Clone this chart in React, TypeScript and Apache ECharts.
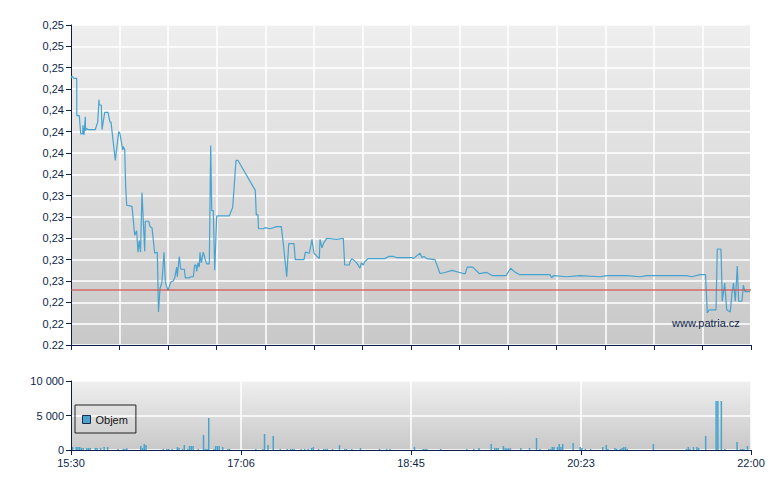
import * as echarts from "echarts";
import { useEffect, useRef } from "react";

// intraday trades, 15:30 - 22:00
const priceTimes = [
  "15:30:00", "15:30:34", "15:31:43", "15:33:16", "15:33:20", "15:34:46", "15:35:34", "15:36:43", "15:36:50", "15:37:27",
  "15:38:12", "15:38:20", "15:39:00", "15:39:45", "15:43:56", "15:45:19", "15:46:04", "15:46:14", "15:47:23", "15:47:47",
  "15:49:20", "15:51:13", "15:52:22", "15:52:56", "15:55:25", "15:57:21", "15:58:06", "15:59:39", "16:00:00", "16:00:48",
  "16:01:22", "16:01:57", "16:04:59", "16:06:32", "16:07:41", "16:08:26", "16:09:10", "16:09:52", "16:10:43", "16:12:16",
  "16:12:37", "16:14:34", "16:15:19", "16:16:27", "16:18:00", "16:19:30", "16:20:11", "16:21:03", "16:22:11", "16:23:20",
  "16:24:05", "16:25:38", "16:27:11", "16:28:40", "16:29:29", "16:30:37", "16:30:58", "16:32:07", "16:32:55", "16:34:59",
  "16:35:33", "16:37:51", "16:38:39", "16:40:08", "16:40:56", "16:41:41", "16:42:05", "16:42:50", "16:43:35", "16:43:59",
  "16:44:44", "16:45:53", "16:47:02", "16:47:50", "16:49:19", "16:50:07", "16:50:42", "16:51:37", "16:52:25", "16:53:34",
  "17:00:47", "17:02:44", "17:04:38", "17:05:47", "17:15:42", "17:16:16", "17:17:15", "17:17:32", "17:20:17", "17:21:16",
  "17:24:08", "17:27:58", "17:30:37", "17:31:46", "17:33:43", "17:34:52", "17:37:54", "17:38:38", "17:43:38", "17:44:23",
  "17:46:40", "17:48:13", "17:49:22", "17:52:25", "17:52:49", "17:53:58", "17:54:42", "17:56:39", "18:02:23", "18:06:10",
  "18:06:58", "18:09:37", "18:10:01", "18:11:10", "18:13:52", "18:15:45", "18:16:29", "18:17:38", "18:18:26", "18:20:20",
  "18:29:55", "18:32:13", "18:34:51", "18:36:48", "18:45:34", "18:46:19", "18:50:10", "18:51:19", "18:52:28", "18:54:00",
  "18:58:46", "19:01:38", "19:04:30", "19:08:31", "19:14:59", "19:16:08", "19:17:17", "19:20:23", "19:24:10", "19:28:25",
  "19:31:52", "19:36:02", "19:39:29", "19:42:11", "19:44:04", "19:47:07", "19:55:08", "20:04:43", "20:05:41", "20:06:37",
  "20:14:18", "20:21:56", "20:33:24", "20:37:14", "20:48:43", "20:56:20", "21:00:11", "21:23:07", "21:25:59", "21:30:45",
  "21:33:55", "21:34:56", "21:36:05", "21:39:56", "21:40:40", "21:42:47", "21:43:32", "21:44:55", "21:46:04", "21:48:08",
  "21:49:06", "21:49:58", "21:51:00", "21:52:08", "21:52:56", "21:54:50", "21:55:35", "21:56:34", "21:59:26",
];

const prices = [
  0.245, 0.2452, 0.245, 0.245, 0.2415, 0.2415, 0.2398, 0.2398, 0.2406, 0.2397,
  0.2414, 0.2401, 0.2403, 0.2402, 0.2402, 0.2409, 0.243, 0.2425, 0.2425, 0.2402,
  0.2418, 0.2418, 0.2409, 0.2409, 0.2373, 0.24, 0.2398, 0.2383, 0.2386, 0.2383,
  0.2348, 0.2331, 0.233, 0.2303, 0.2307, 0.2287, 0.2298, 0.2287, 0.2343, 0.2288,
  0.2316, 0.2316, 0.2311, 0.231, 0.2286, 0.2287, 0.2231, 0.2253, 0.2259, 0.2287,
  0.2259, 0.2251, 0.2259, 0.226, 0.2263, 0.2273, 0.2264, 0.2283, 0.2271, 0.2271,
  0.2263, 0.2263, 0.2264, 0.2264, 0.2275, 0.2275, 0.2269, 0.2277, 0.2273, 0.2287,
  0.2277, 0.2287, 0.228, 0.2276, 0.2276, 0.2387, 0.2326, 0.2326, 0.227, 0.2321,
  0.2321, 0.2329, 0.2373, 0.2373, 0.2345, 0.2322, 0.2322, 0.2309, 0.2309, 0.231,
  0.2309, 0.2311, 0.2311, 0.2295, 0.2264, 0.2295, 0.2295, 0.228, 0.228, 0.2287,
  0.2286, 0.2299, 0.2286, 0.2281, 0.2299, 0.2291, 0.2295, 0.23, 0.2299, 0.23,
  0.2275, 0.2275, 0.2278, 0.2281, 0.2277, 0.2272, 0.2277, 0.2275, 0.2278, 0.2281,
  0.2281, 0.2283, 0.2283, 0.2282, 0.2282, 0.2281, 0.2286, 0.2282, 0.2283, 0.2281,
  0.228, 0.2267, 0.2268, 0.227, 0.2267, 0.2267, 0.2273, 0.2273, 0.2267, 0.2268,
  0.2265, 0.2265, 0.2265, 0.2272, 0.2269, 0.2266, 0.2266, 0.2266, 0.2263, 0.2265,
  0.2264, 0.2265, 0.2264, 0.2265, 0.2265, 0.2264, 0.2265, 0.2265, 0.2264, 0.2266,
  0.2266, 0.223, 0.2233, 0.2233, 0.229, 0.229, 0.2241, 0.2258, 0.2233, 0.2231,
  0.2249, 0.2258, 0.2241, 0.2274, 0.2241, 0.2241, 0.2256, 0.225, 0.225,
];

const refPrice = 0.2252;

const volumeTimes = [
  "15:31", "15:33", "15:34", "15:35", "15:36", "15:37", "15:39", "15:40", "15:41", "15:44",
  "15:45", "15:47", "15:49", "15:51", "15:57", "16:00", "16:01", "16:02", "16:10", "16:11",
  "16:12", "16:13", "16:23", "16:25", "16:26", "16:28", "16:31", "16:32", "16:34", "16:35",
  "16:37", "16:38", "16:39", "16:40", "16:43", "16:46", "16:47", "16:48", "16:49", "16:52",
  "16:53", "16:54", "16:55", "16:57", "17:00", "17:01", "17:16", "17:20", "17:21", "17:23",
  "17:26", "17:30", "17:34", "17:36", "17:37", "17:38", "17:42", "17:44", "17:46", "17:48",
  "17:49", "17:52", "17:55", "17:56", "17:57", "18:00", "18:04", "18:07", "18:08", "18:11",
  "18:16", "18:27", "18:31", "18:33", "18:47", "18:52", "18:53", "18:54", "19:02", "19:17",
  "19:21", "19:24", "19:31", "19:33", "19:34", "19:35", "19:38", "19:39", "19:40", "19:41",
  "19:42", "19:48", "19:53", "19:57", "19:59", "20:04", "20:05", "20:06", "20:07", "20:09",
  "20:10", "20:11", "20:12", "20:18", "20:22", "20:23", "20:25", "20:28", "20:35", "20:37",
  "20:38", "20:42", "20:43", "20:45", "20:46", "20:47", "20:48", "20:49", "21:04", "21:23",
  "21:24", "21:25", "21:27", "21:29", "21:30", "21:34", "21:40", "21:41", "21:43", "21:45",
  "21:52", "21:54", "21:55", "21:56", "21:58",
];

const volumes = [
  430, 430, 430, 430, 300, 300, 300, 300, 300, 300,
  300, 300, 430, 430, 150, 150, 150, 250, 580, 300,
  870, 720, 150, 150, 150, 150, 430, 300, 150, 720,
  150, 580, 580, 580, 150, 2180, 150, 150, 4640, 150,
  580, 580, 580, 430, 150, 150, 150, 150, 2320, 720,
  2030, 150, 150, 150, 150, 150, 150, 150, 150, 300,
  430, 150, 150, 150, 150, 150, 720, 150, 150, 150,
  300, 150, 150, 150, 430, 150, 150, 150, 150, 150,
  150, 300, 870, 300, 300, 300, 580, 250, 250, 250,
  250, 300, 300, 1740, 150, 150, 150, 430, 430, 430,
  870, 430, 870, 1020, 430, 300, 150, 150, 430, 720,
  150, 300, 150, 150, 300, 430, 430, 150, 870, 150,
  430, 150, 430, 430, 300, 2030, 7100, 7100, 7100, 150,
  1160, 150, 150, 150, 580,
];

const volumeTicks = ["0", "5 000", "10 000"];
const timeLabels = ["15:30", "17:06", "18:45", "20:23", "22:00"];

const sessionLength = 390; // minutes, 15:30 -> 22:00
const priceMin = 0.22;
const priceMax = 0.25;
const priceStep = 0.002;

const toMinutes = (t: string) => {
  const [h, m, s] = t.split(":").map(Number);
  return h * 60 + m + (s || 0) / 60 - (15 * 60 + 30);
};

const navy = "#0d1f4a";
const font = "Liberation Sans";

const plotBg = () =>
  new echarts.graphic.LinearGradient(0, 0, 0, 1, [
    { offset: 0, color: "#efefef" },
    { offset: 1, color: "#c8c8c8" },
  ]);

export default function App() {
  const chartRef = useRef<HTMLDivElement>(null);

  useEffect(() => {
    if (!chartRef.current) return;
    const chart = echarts.init(chartRef.current, undefined, { renderer: "svg" });

    const axisLabel = { color: navy, fontSize: 11, fontFamily: font };

    const option: echarts.EChartsOption = {
      animation: false,
      backgroundColor: "#fff",
      grid: [
        { left: 71, top: 25, width: 680, height: 320, show: true, borderWidth: 0, backgroundColor: plotBg() },
        { left: 71, top: 381, width: 680, height: 69, show: true, borderWidth: 0, backgroundColor: plotBg() },
      ],
      legend: {
        data: ["Objem"],
        left: 75,
        top: 405,
        orient: "vertical",
        padding: [9, 8, 8, 7],
        itemWidth: 8,
        itemHeight: 8,
        itemGap: 5,
        borderColor: "#222",
        borderWidth: 1,
        icon: "rect",
        itemStyle: { borderColor: "#1a2a50", borderWidth: 1 },
        textStyle: { color: "#111", fontSize: 11, fontFamily: font },
      },
      xAxis: [
        {
          type: "value",
          gridIndex: 0,
          min: 0,
          max: sessionLength,
          interval: sessionLength / 14,
          axisLine: { show: true, lineStyle: { color: navy, width: 1 } },
          axisTick: { show: true, length: 5, lineStyle: { color: navy } },
          axisLabel: { show: false },
          splitLine: { show: true, lineStyle: { color: "#fff", width: 1.5 } },
        },
        {
          type: "value",
          gridIndex: 1,
          min: 0,
          max: sessionLength,
          interval: sessionLength / 4,
          axisLine: { show: true, lineStyle: { color: navy, width: 1 } },
          axisTick: { show: true, length: 5, lineStyle: { color: navy } },
          axisLabel: {
            ...axisLabel,
            margin: 7,
            formatter: (v: number) => timeLabels[Math.round(v / (sessionLength / 4))] ?? "",
          },
          splitLine: { show: true, lineStyle: { color: "#fff", width: 1.5 } },
        },
      ],
      yAxis: [
        {
          type: "value",
          gridIndex: 0,
          min: priceMin,
          max: priceMax,
          interval: priceStep,
          axisLine: { show: true, lineStyle: { color: navy, width: 1 } },
          axisTick: { show: true, length: 5, lineStyle: { color: navy } },
          axisLabel: {
            ...axisLabel,
            margin: 7,
            formatter: (v: number) =>
              Math.abs(v - priceMin) < 1e-6 ? "0.22" : v.toFixed(2).replace(".", ","),
          },
          splitLine: { show: true, lineStyle: { color: "#fff", width: 1.5 } },
        },
        {
          type: "value",
          gridIndex: 1,
          min: 0,
          max: 10000,
          interval: 5000,
          axisLine: { show: true, lineStyle: { color: navy, width: 1 } },
          axisTick: { show: true, length: 5, lineStyle: { color: navy } },
          axisLabel: {
            ...axisLabel,
            margin: 7,
            formatter: (v: number) => volumeTicks[Math.round(v / 5000)] ?? "",
          },
          splitLine: { show: true, lineStyle: { color: "#fff", width: 1.5 } },
        },
      ],
      series: [
        {
          name: "Cena",
          type: "line",
          xAxisIndex: 0,
          yAxisIndex: 0,
          data: priceTimes.map((t, i) => [toMinutes(t), prices[i]]),
          showSymbol: false,
          lineStyle: { color: "#46a3d0", width: 1.2 },
          itemStyle: { color: "#46a3d0" },
          z: 3,
          markLine: {
            silent: true,
            symbol: "none",
            precision: 5,
            label: { show: false },
            lineStyle: { color: "rgba(214,70,70,0.75)", width: 1.5, type: "solid" },
            data: [{ yAxis: refPrice }],
          },
        },
        {
          name: "Objem",
          type: "bar",
          xAxisIndex: 1,
          yAxisIndex: 1,
          barWidth: 1.5,
          data: volumeTimes.map((t, i) => [toMinutes(t), volumes[i]]),
          itemStyle: { color: "#4aa3cc" },
        },
      ],
      graphic: [
        {
          type: "text",
          left: 672,
          top: 317,
          z: 10,
          style: { text: "www.patria.cz", fill: navy, fontSize: 11, fontFamily: font },
        },
      ],
    };

    chart.setOption(option);
    return () => chart.dispose();
  }, []);

  return (
    <div
      ref={chartRef}
      style={{ position: "fixed", left: 0, top: 0, width: "780px", height: "490px" }}
    />
  );
}
